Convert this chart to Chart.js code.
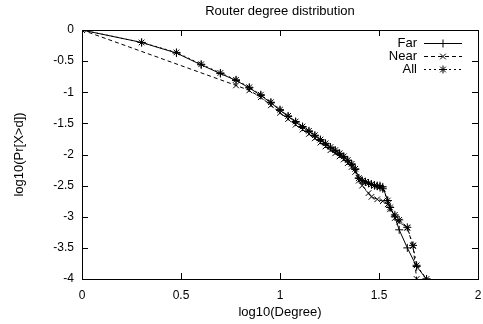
<!DOCTYPE html>
<html>
<head>
<meta charset="utf-8">
<script src="https://cdn.jsdelivr.net/npm/chart.js@4.4.1/dist/chart.umd.min.js"></script>
<style>
  html, body { margin: 0; padding: 0; background: #fff; }
  #wrap { width: 483px; height: 324px; }
</style>
</head>
<body>
<div id="wrap"><canvas id="chart"></canvas></div>
<script>
// log10(Degree) / log10(Pr[X>d])
const farX = [0, 0.301, 0.477, 0.602, 0.699, 0.778, 0.845, 0.903, 0.954, 1, 1.041, 1.079, 1.114, 1.146, 1.176, 1.204, 1.230, 1.255, 1.279, 1.301, 1.322, 1.342, 1.362, 1.380, 1.398, 1.415, 1.431, 1.447, 1.462, 1.477, 1.491, 1.505, 1.519, 1.544, 1.556, 1.580, 1.602, 1.643, 1.690, 1.740];
const farY = [0, -0.20, -0.37, -0.56, -0.70, -0.81, -0.93, -1.05, -1.17, -1.29, -1.39, -1.48, -1.56, -1.63, -1.70, -1.77, -1.83, -1.89, -1.94, -1.99, -2.04, -2.10, -2.16, -2.24, -2.38, -2.42, -2.44, -2.46, -2.48, -2.49, -2.50, -2.50, -2.52, -2.74, -2.85, -3.00, -3.21, -3.50, -3.80, -4.00];

const nearX = [0, 0.778, 0.845, 0.903, 0.954, 1, 1.041, 1.079, 1.114, 1.146, 1.176, 1.204, 1.230, 1.255, 1.279, 1.301, 1.322, 1.342, 1.362, 1.380, 1.398, 1.415, 1.447, 1.462, 1.491, 1.519, 1.544, 1.556, 1.580, 1.602, 1.643, 1.672, 1.690];
const nearY = [0, -0.89, -0.97, -1.08, -1.21, -1.33, -1.43, -1.52, -1.60, -1.67, -1.74, -1.81, -1.87, -1.93, -1.98, -2.03, -2.08, -2.14, -2.20, -2.28, -2.42, -2.50, -2.62, -2.68, -2.72, -2.75, -2.80, -2.88, -3.02, -3.08, -3.18, -3.47, -4.00];

const allX = [0, 0.301, 0.477, 0.602, 0.699, 0.778, 0.845, 0.903, 0.954, 1, 1.041, 1.079, 1.114, 1.146, 1.176, 1.204, 1.230, 1.255, 1.279, 1.301, 1.322, 1.342, 1.362, 1.380, 1.398, 1.415, 1.431, 1.447, 1.462, 1.477, 1.491, 1.505, 1.519, 1.544, 1.556, 1.580, 1.602, 1.643, 1.672, 1.690, 1.740];
const allY = [0, -0.20, -0.36, -0.55, -0.69, -0.80, -0.92, -1.04, -1.16, -1.28, -1.38, -1.47, -1.55, -1.62, -1.69, -1.76, -1.82, -1.88, -1.93, -1.98, -2.03, -2.09, -2.15, -2.23, -2.38, -2.42, -2.44, -2.46, -2.48, -2.50, -2.51, -2.52, -2.55, -2.74, -2.85, -2.97, -3.05, -3.17, -3.46, -3.78, -4.00];

const seriesNames = ['Far', 'Near', 'All'];
const xTicks = [0, 0.5, 1, 1.5, 2];
const yTicks = [0, -0.5, -1, -1.5, -2, -2.5, -3, -3.5, -4];
const titleText = 'Router degree distribution';

const FONT = 'Liberation Sans, Arial, Helvetica, sans-serif';

function pts(xs, ys) {
  return xs.map((x, i) => ({ x: x, y: ys[i] }));
}

// gnuplot style frame, inward ticks on all four sides, title and key
const framePlugin = {
  id: 'frame',
  afterDraw(chart) {
    const ctx = chart.ctx;
    const a = chart.chartArea;
    const xs = chart.scales.x;
    const ys = chart.scales.y;
    ctx.save();
    ctx.strokeStyle = '#000';
    ctx.lineWidth = 1;
    ctx.setLineDash([]);
    ctx.strokeRect(Math.round(a.left) + 0.5, Math.round(a.top) + 0.5,
      Math.round(a.right - a.left), Math.round(a.bottom - a.top));
    ctx.beginPath();
    xTicks.forEach(v => {
      const px = Math.round(xs.getPixelForValue(v)) + 0.5;
      ctx.moveTo(px, a.bottom); ctx.lineTo(px, a.bottom - 6);
      ctx.moveTo(px, a.top); ctx.lineTo(px, a.top + 6);
    });
    yTicks.forEach(v => {
      const py = Math.round(ys.getPixelForValue(v)) + 0.5;
      ctx.moveTo(a.left, py); ctx.lineTo(a.left + 6, py);
      ctx.moveTo(a.right, py); ctx.lineTo(a.right - 6, py);
    });
    ctx.stroke();

    ctx.fillStyle = '#000';
    ctx.font = '13px ' + FONT;
    ctx.textAlign = 'center';
    ctx.textBaseline = 'middle';
    ctx.fillText(titleText, (a.left + a.right) / 2, 11);

    // key
    ctx.textAlign = 'right';
    chart.data.datasets.forEach((ds, i) => {
      const y = a.top + 13 + i * 13;
      const x0 = a.right - 54;
      const x1 = a.right - 16;
      ctx.fillText(ds.label, x0 - 7, y);
      ctx.setLineDash(ds.borderDash || []);
      ctx.beginPath();
      ctx.moveTo(x0, y + 0.5); ctx.lineTo(x1, y + 0.5);
      ctx.stroke();
      ctx.setLineDash([]);
      Chart.helpers.drawPoint(ctx, {
        pointStyle: ds.pointStyle, radius: ds.pointRadius, borderWidth: 1
      }, (x0 + x1) / 2, y + 0.5);
    });
    ctx.restore();
  }
};

const datasets = [
  { label: seriesNames[0], data: pts(farX, farY), borderDash: [], pointStyle: 'cross' },
  { label: seriesNames[1], data: pts(nearX, nearY), borderDash: [4, 3], pointStyle: 'crossRot' },
  { label: seriesNames[2], data: pts(allX, allY), borderDash: [2, 3], pointStyle: 'star' }
].map(d => Object.assign(d, {
  borderColor: '#000',
  backgroundColor: '#000',
  borderWidth: 1,
  pointRadius: 4,
  pointBorderWidth: 1,
  pointBorderColor: '#000',
  tension: 0,
  showLine: true,
  fill: false
}));

new Chart(document.getElementById('chart'), {
  type: 'scatter',
  data: { datasets: datasets },
  options: {
    responsive: true,
    maintainAspectRatio: false,
    animation: false,
    layout: { padding: { left: 0, right: 5, top: 30, bottom: 0 } },
    plugins: {
      legend: { display: false },
      tooltip: { enabled: false },
      title: { display: false }
    },
    scales: {
      x: {
        type: 'linear',
        min: 0, max: 2,
        afterBuildTicks(s) { s.ticks = xTicks.map(v => ({ value: v })); },
        afterFit(s) { s.height = 45; s.paddingLeft = 0; s.paddingRight = 0; },
        grid: { display: false, drawTicks: false },
        border: { display: false },
        ticks: {
          color: '#000', padding: 9, maxRotation: 0,
          font: { family: FONT, size: 12 },
          callback: v => String(v)
        },
        title: {
          display: true, text: 'log10(Degree)', color: '#000',
          font: { family: FONT, size: 13 }, padding: { top: 0, bottom: 4 }
        }
      },
      y: {
        type: 'linear',
        min: -4, max: 0,
        afterBuildTicks(s) { s.ticks = yTicks.map(v => ({ value: v })); },
        afterFit(s) { s.width = 82; s.paddingTop = 0; s.paddingBottom = 0; },
        grid: { display: false, drawTicks: false },
        border: { display: false },
        ticks: {
          color: '#000', padding: 8,
          font: { family: FONT, size: 12 },
          callback: v => String(v)
        },
        title: {
          display: true, text: 'log10(Pr[X>d])', color: '#000',
          font: { family: FONT, size: 13 }, padding: { top: 12, bottom: 0 }
        }
      }
    }
  },
  plugins: [framePlugin]
});
</script>
</body>
</html>
